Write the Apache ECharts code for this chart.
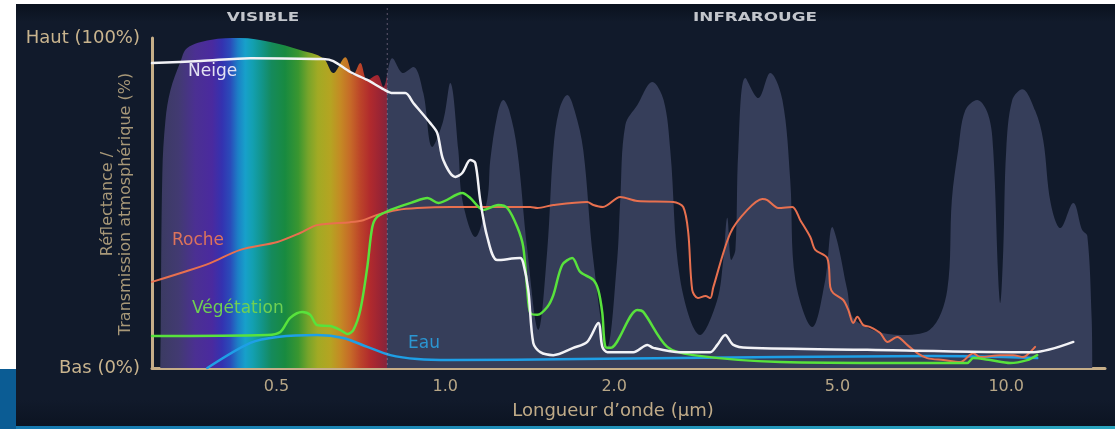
<!DOCTYPE html>
<html><head><meta charset="utf-8">
<script src="https://cdn.jsdelivr.net/npm/echarts@6/dist/echarts.min.js"></script>
<style>html,body{margin:0;padding:0;background:#fff}#c{width:1115px;height:429px}</style>
</head><body><div id="c"></div>
<script>
// ---- data (wavelength µm, %) ----
const WAVELENGTH_TICKS = [0.5, 1, 2, 5, 10];
const Y_TICKS = [0, 100];
const Y_TICK_LABELS = ['Bas (0%)', 'Haut (100%)'];
const VISIBLE_LIMIT = 0.788;

const transmission = [
  [0.3105, 0], [0.3108, 8.5], [0.313, 59], [0.317, 75], [0.3234, 84], [0.337, 92.7], [0.3467, 97],
  [0.381, 99.4], [0.431, 100], [0.4876, 98.8], [0.551, 96.4], [0.606, 93.9], [0.6315, 89.4],
  [0.6633, 94.2], [0.6855, 88.8], [0.7055, 92.4], [0.7261, 87.3], [0.7564, 88.8], [0.7753, 85.2],
  [0.8046, 93.9], [0.8417, 89.4], [0.8769, 91.2], [0.9137, 83.3], [0.948, 67], [0.9918, 75],
  [1.0207, 86.4], [1.0549, 66], [1.0723, 51], [1.131, 39.7], [1.188, 51], [1.2029, 63], [1.238, 76.7],
  [1.2687, 81.2], [1.30, 78], [1.3437, 66], [1.40, 35.8], [1.465, 11.5], [1.52, 35.8], [1.5577, 66],
  [1.595, 78], [1.65, 82.7], [1.70, 78], [1.762, 66], [1.836, 32.7], [1.945, 6.4], [2.025, 32.7],
  [2.051, 51], [2.094, 73.6], [2.2, 79.7], [2.339, 86.7], [2.45, 81.2], [2.518, 66], [2.6235, 26.7],
  [2.848, 10], [3.054, 20.6], [3.13, 32.7], [3.182, 45.5], [3.235, 32.7], [3.29, 35.8], [3.33, 66],
  [3.4266, 87.9], [3.614, 81.8], [3.796, 89.4], [3.99, 81.2], [4.12, 57], [4.207, 26.7], [4.511, 12.4],
  [4.758, 26.7], [4.897, 42.7], [5.02, 37], [5.207, 23.6], [5.38, 14.5], [6.47, 10], [7.3, 11.5],
  [7.85, 23.6], [8.0, 51], [8.21, 66], [8.45, 78], [8.878, 81.2], [9.29, 76.7], [9.48, 66], [9.68, 26.7],
  [9.757, 19.7], [9.88, 35.8], [10.0, 66], [10.25, 81.2], [10.68, 84.5], [11.26, 78], [11.64, 69],
  [12.0, 50], [12.49, 42.4], [13.17, 50], [13.66, 41.8], [13.95, 40], [14.2, 15], [14.24, 0]
];

const neige = [
  [0.3, 92.4], [0.366, 93], [0.4493, 93.9], [0.606, 93.6], [0.6315, 93], [0.677, 89.7], [0.726, 87.3],
  [0.775, 84.5], [0.806, 83.3], [0.8486, 83.3], [0.877, 80.3], [0.9403, 74.2], [0.9676, 71.2],
  [0.9918, 63], [1.042, 57.9], [1.072, 59.1], [1.108, 63], [1.131, 62.1], [1.154, 50.9], [1.188, 39.7],
  [1.238, 32.7], [1.36, 33.3], [1.377, 31.8], [1.406, 23.6], [1.435, 7.6], [1.477, 4.8], [1.558, 3.9],
  [1.691, 6.1], [1.791, 7.9], [1.874, 13.6], [1.905, 6.4], [1.945, 4.8], [2.164, 4.8], [2.292, 7],
  [2.349, 6.1], [2.624, 4.8], [2.968, 4.8], [3.054, 7], [3.156, 10], [3.262, 7], [3.455, 6.1],
  [5.65, 5.5], [11.17, 4.8], [13.17, 7.9]
];

const roche = [
  [0.3, 26.1], [0.342, 29.1], [0.381, 31.8], [0.431, 35.8], [0.502, 38.2], [0.551, 40.9], [0.591, 43.3],
  [0.677, 44.2], [0.714, 44.8], [0.756, 46.4], [0.821, 47.9], [0.8915, 48.5], [1.021, 48.8], [1.4175, 48.8],
  [1.459, 48.5], [1.558, 49.4], [1.791, 50.3], [1.836, 49.4], [1.91, 48.8], [2.051, 51.8], [2.199, 50.6],
  [2.549, 50.3], [2.656, 48.8], [2.7115, 40.9], [2.756, 23.6], [2.82, 21.2], [2.91, 21.8], [2.968, 21.2],
  [3.005, 24.5], [3.222, 40.9], [3.455, 47.9], [3.674, 51.2], [3.75, 50.9], [3.923, 48.5], [4.156, 48.8],
  [4.2945, 44.8], [4.474, 39.7], [4.5665, 35.8], [4.797, 33.3], [4.857, 24.5], [4.917, 22.7], [5.122, 20.6],
  [5.229, 17.6], [5.337, 13.6], [5.426, 15.5], [5.561, 13], [5.723, 12.4], [5.963, 10.6], [6.137, 7.9],
  [6.394, 9.4], [6.661, 7], [6.94, 4.5], [7.23, 3], [7.72, 2.4], [8.28, 1.8], [8.734, 4.5], [8.989, 3.3],
  [9.757, 3.9], [10.29, 3.9], [10.72, 3.3], [11.03, 4.8], [11.26, 6.4]
];

const vegetation = [
  [0.3, 9.7], [0.482, 10], [0.508, 10.9], [0.529, 15.2], [0.556, 17], [0.5745, 16.1], [0.591, 13],
  [0.624, 12.7], [0.65, 11.5], [0.669, 10.3], [0.6855, 11.5], [0.7055, 17.6], [0.726, 30.6], [0.741, 42.7],
  [0.756, 45.8], [0.798, 47.9], [0.877, 50.3], [0.929, 51.5], [0.972, 50], [1.072, 53], [1.108, 51.5],
  [1.169, 47.9], [1.243, 49.4], [1.29, 48.5], [1.344, 42.7], [1.377, 36.7], [1.40, 23.6], [1.4175, 16.7],
  [1.459, 16.1], [1.52, 18.5], [1.558, 22.1], [1.616, 31.2], [1.684, 33.3], [1.74, 29.1], [1.836, 26.7],
  [1.874, 23.6], [1.905, 16.7], [1.929, 6.4], [1.969, 6.1], [2.199, 17.6], [2.254, 17], [2.487, 6.4],
  [2.768, 3.9], [3.956, 1.8], [6.47, 1.5], [8.52, 1.5], [8.734, 3], [9.365, 2.4], [10.165, 1.5],
  [10.9, 2.4], [11.357, 3.9]
];

const eau = [
  [0.3765, 0], [0.4493, 7.6], [0.502, 9.4], [0.591, 10], [0.658, 9.1], [0.726, 6.4], [0.798, 3.9],
  [0.8915, 2.7], [1.021, 2.4], [1.74, 2.7], [3.956, 3.3], [7.41, 3.6], [11.357, 3]
];

// colour of the visible spectrum by wavelength (µm)
const SPECTRUM = [
  [0.3105, '#3b3b62'], [0.335, '#423a72'], [0.358, '#4b3092'], [0.384, '#4a2a9f'], [0.40, '#3432b0'],
  [0.414, '#2a4cba'], [0.427, '#1c80c6'], [0.44, '#17a0ca'], [0.453, '#13a0b2'], [0.47, '#12958c'],
  [0.49, '#158a5c'], [0.518, '#188a40'], [0.547, '#3a9630'], [0.57, '#78a42a'], [0.593, '#a2aa24'],
  [0.624, '#b5a422'], [0.65, '#c48a24'], [0.677, '#c66a28'], [0.7055, '#bc4429'], [0.735, '#b02a2d'],
  [0.765, '#9a2434'], [0.786, '#84263c'], [0.789, '#363e5a'], [14.24, '#363e5a']
];

// ---- chart ----
const FONT = 'DejaVu Sans';
const chart = echarts.init(document.getElementById('c'), null, {renderer: 'canvas'});
const L = Math.log10;
const t0 = transmission[0][0], t1 = transmission[transmission.length - 1][0];
const stops = SPECTRUM.map(([w, c]) => ({
  offset: Math.min(1, Math.max(0, (L(w) - L(t0)) / (L(t1) - L(t0)))), color: c
}));

const axisColor = '#c6ae88';
const lineSeries = (name, data, color, width, z) => ({
  name, type: 'line', data, smooth: 0.3, symbol: 'none', z,
  lineStyle: {color, width, cap: 'round', join: 'round'}
});

chart.setOption({
  backgroundColor: '#111a2b',
  animation: false,
  grid: {left: 152, right: 10, top: 38, bottom: 61, containLabel: false, outerBoundsMode: 'none'},
  xAxis: {
    type: 'log', logBase: 10, min: 0.3, max: 15,
    axisLine: {show: true, lineStyle: {color: axisColor, width: 3}},
    axisTick: {show: false}, minorTick: {show: false}, splitLine: {show: false},
    axisLabel: {customValues: WAVELENGTH_TICKS, formatter: v => Number(v).toFixed(1),
      color: '#b8a787', fontSize: 16, fontFamily: FONT, margin: 11}
  },
  yAxis: {
    type: 'value', min: 0, max: 100,
    axisLine: {show: true, lineStyle: {color: axisColor, width: 3}},
    axisTick: {show: false}, splitLine: {show: false},
    axisLabel: {customValues: Y_TICKS, formatter: v => Y_TICK_LABELS[Y_TICKS.indexOf(Number(v))],
      color: '#c9b48e', fontSize: 18, fontFamily: FONT, margin: 12}
  },
  series: [
    {name: 'Transmission', type: 'line', data: transmission, smooth: 0.35, symbol: 'none', z: 1,
     lineStyle: {width: 0}, areaStyle: {opacity: 1,
       color: new echarts.graphic.LinearGradient(0, 0, 1, 0, stops)}},
    lineSeries('Eau', eau, '#1e9fe6', 2.5, 3),
    lineSeries('Roche', roche, '#e8704f', 2, 4),
    lineSeries('Végétation', vegetation, '#58e23c', 2.5, 5),
    lineSeries('Neige', neige, '#f2f2f6', 2.5, 6)
  ]
});

const bx = chart.convertToPixel({xAxisIndex: 0}, VISIBLE_LIMIT);
const txt = (text, x, y, size, color, extra) => Object.assign({
  type: 'text', x, y, z: 20, silent: true,
  style: {text, x: 0, y: 0, fill: color, font: size + 'px "' + FONT + '"', align: 'left', verticalAlign: 'middle'}
}, extra || {});

chart.setOption({
  graphic: [
    {type: 'rect', z: -5, silent: true, shape: {x: 0, y: 0, width: 16, height: 369}, style: {fill: '#ffffff'}},
    {type: 'rect', z: -5, silent: true, shape: {x: 0, y: 0, width: 1115, height: 4}, style: {fill: '#ffffff'}},
    {type: 'rect', z: -5, silent: true, shape: {x: 0, y: 369, width: 16, height: 60}, style: {fill: '#0b5c94'}},
    {type: 'rect', z: -5, silent: true, shape: {x: 16, y: 4, width: 1099, height: 18},
     style: {fill: new echarts.graphic.LinearGradient(0, 0, 0, 1, [{offset: 0, color: '#0a111e'}, {offset: 1, color: '#111a2b'}])}},
    {type: 'rect', z: -5, silent: true, shape: {x: 16, y: 400, width: 1099, height: 26},
     style: {fill: new echarts.graphic.LinearGradient(0, 0, 0, 1, [{offset: 0, color: '#111a2b'}, {offset: 1, color: '#0c1422'}])}},
    {type: 'rect', z: -5, silent: true, shape: {x: 16, y: 426, width: 1099, height: 3},
     style: {fill: new echarts.graphic.LinearGradient(0, 0, 1, 0, [{offset: 0, color: '#1679b0'}, {offset: 1, color: '#2aa6c0'}])}},
    {type: 'line', z: 8, silent: true, shape: {x1: bx, y1: 8, x2: bx, y2: 366},
     style: {stroke: 'rgba(190,160,190,0.45)', lineWidth: 1, lineDash: [2, 3]}},
    txt('VISIBLE', 263, 17.5, 12, '#c3c6cc', {scaleX: 1.4, style: {text: 'VISIBLE', x: 0, y: 0, fill: '#c3c6cc', font: 'bold 12px "DejaVu Sans"', align: 'center', verticalAlign: 'middle'}}),
    txt('INFRAROUGE', 755, 17.5, 12, '#c3c6cc', {scaleX: 1.4, style: {text: 'INFRAROUGE', x: 0, y: 0, fill: '#c3c6cc', font: 'bold 12px "DejaVu Sans"', align: 'center', verticalAlign: 'middle'}}),
    txt('Neige', 188, 72, 17, '#e2e2f2'),
    txt('Roche', 172, 241, 17, '#dc735c'),
    txt('Végétation', 192, 309, 17, '#6fd052'),
    txt('Eau', 408, 344, 17, '#2b96d2'),
    {type: 'text', x: 117, y: 204, rotation: Math.PI / 2, z: 20, silent: true,
     style: {text: 'Réflectance /\nTransmission atmosphérique (%)', x: 0, y: 0, fill: '#a89878',
       font: '16px "DejaVu Sans"', align: 'center', verticalAlign: 'middle', lineHeight: 18}},
    {type: 'text', x: 613, y: 411, z: 20, silent: true,
     style: {text: 'Longueur d’onde (µm)', x: 0, y: 0, fill: '#c0ab88',
       font: '18px "DejaVu Sans"', align: 'center', verticalAlign: 'middle'}}
  ]
});
</script></body></html>
